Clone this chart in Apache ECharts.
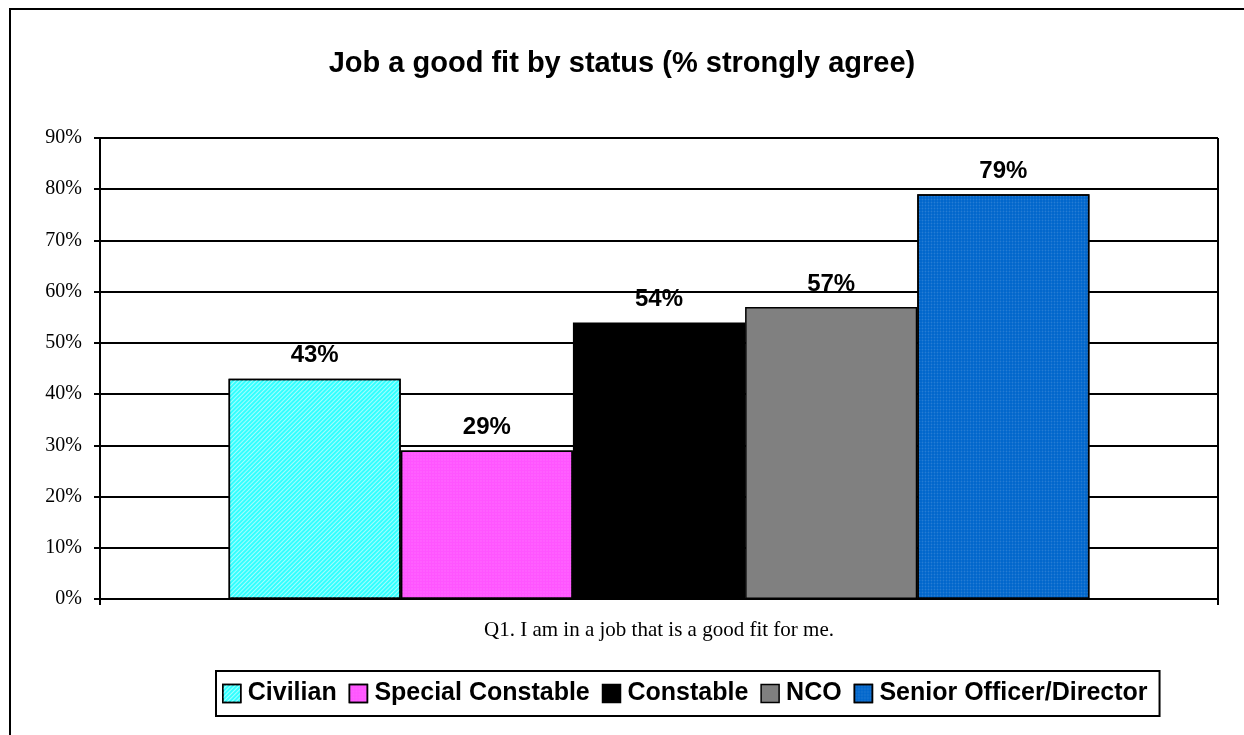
<!DOCTYPE html>
<html>
<head>
<meta charset="utf-8">
<script src="https://cdn.jsdelivr.net/npm/echarts@6/dist/echarts.min.js"></script>
<style>
  html, body { margin: 0; padding: 0; background: #fff; }
  #chart { width: 1244px; height: 735px; }
</style>
</head>
<body>
<div id="chart"></div>
<script>
// data
var groups = ["Civilian", "Special Constable", "Constable", "NCO", "Senior Officer/Director"];
var values = [43, 29, 54, 57, 79];
var colors = ["#33ffff", "#ff55ff", "#000000", "#808080", "#0066cc"];
var yTicks = [0, 10, 20, 30, 40, 50, 60, 70, 80, 90];

var decals = [
  { color: "rgba(255,255,255,0.55)", dashArrayX: [1, 0], dashArrayY: [1, 2], rotation: -Math.PI / 4, symbolSize: 1 },
  { color: "rgba(255,255,255,0.25)", symbol: "rect", symbolSize: 0.5, dashArrayX: [2, 1], dashArrayY: [2, 1] },
  null,
  null,
  { color: "rgba(255,255,255,0.15)", symbol: "circle", symbolSize: 0.6, dashArrayX: [3, 0], dashArrayY: [3, 0] }
];

var sans = "Liberation Sans, Arial, sans-serif";
var serif = "Liberation Serif, Times New Roman, serif";

var seriesArr = [];
groups.forEach(function (name, i) {
  var style = { color: colors[i], borderColor: "#000", borderWidth: 1.5 };
  if (decals[i]) style.decal = decals[i];
  seriesArr.push({
    name: name,
    type: "bar",
    barGap: 0,
    barCategoryGap: "23%",
    itemStyle: style,
    label: {
      show: true,
      position: "top",
      distance: 11,
      formatter: "{c}%",
      fontFamily: sans,
      fontWeight: "bold",
      fontSize: 24,
      color: "#000"
    },
    data: [values[i]]
  });
});

var myChart = echarts.init(document.getElementById("chart"), null, { renderer: "canvas" });

myChart.setOption({
  animation: false,
  title: {
    text: "Job a good fit by status (% strongly agree)",
    left: "center",
    top: 44,
    textStyle: { fontFamily: sans, fontWeight: "bold", fontSize: 29, color: "#000" }
  },
  graphic: [{
    type: "rect",
    shape: { x: 10, y: 9, width: 1250, height: 740 },
    style: { fill: "none", stroke: "#000", lineWidth: 2 },
    silent: true
  }, {
    type: "line",
    shape: { x1: 1218, y1: 138, x2: 1218, y2: 599 },
    style: { stroke: "#000", lineWidth: 2 },
    silent: true
  }],
  legend: {
    left: 216,
    top: 671,
    padding: [10, 12, 10, 6],
    borderColor: "#000",
    borderWidth: 2,
    itemGap: 12,
    itemWidth: 18,
    itemHeight: 18,
    icon: "rect",
    itemStyle: { borderColor: "#000", borderWidth: 1.5 },
    textStyle: { fontFamily: sans, fontWeight: "bold", fontSize: 25, color: "#000", padding: [0, 0, 0, 2] },
    data: groups
  },
  grid: { left: 100, right: 26, top: 138, bottom: 136 },
  xAxis: {
    type: "category",
    data: [""],
    name: "Q1. I am in a job that is a good fit for me.",
    nameLocation: "middle",
    nameGap: 21,
    nameTextStyle: { fontFamily: serif, fontSize: 21, color: "#000" },
    axisLine: { lineStyle: { color: "#000", width: 2 } },
    axisTick: { show: true, length: 6, lineStyle: { color: "#000", width: 2 } },
    axisLabel: { show: false }
  },
  yAxis: {
    type: "value",
    min: yTicks[0],
    max: yTicks[yTicks.length - 1],
    interval: 10,
    axisLine: { show: true, lineStyle: { color: "#000", width: 2 } },
    axisTick: { show: true, length: 6, lineStyle: { color: "#000", width: 2 } },
    axisLabel: {
      formatter: "{value}%",
      margin: 18,
      fontFamily: serif,
      fontSize: 20,
      color: "#000"
    },
    splitLine: { lineStyle: { color: "#000", width: 2 } }
  },
  series: seriesArr
});
</script>
</body>
</html>
